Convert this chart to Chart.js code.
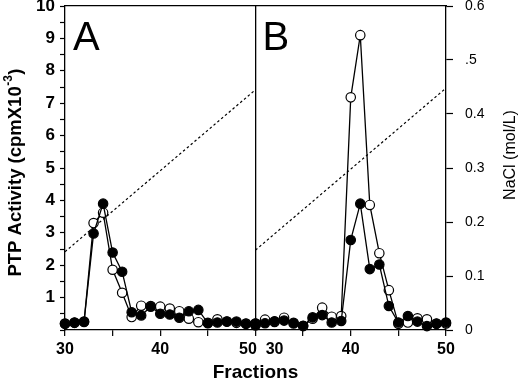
<!DOCTYPE html>
<html><head><meta charset="utf-8">
<script src="https://cdn.jsdelivr.net/npm/chart.js@4/dist/chart.umd.min.js"></script>
<style>html,body{margin:0;padding:0;background:#fff;}canvas{display:block;}</style>
</head><body>
<canvas id="c" width="520" height="388"></canvas>
<script>
// ---- data ----
const fractions = [30,31,32,33,34,35,36,37,38,39,40,41,42,43,44,45,46,47,48,49,50];
const panelAFilled = [0.19,0.23,0.26,2.98,3.90,2.39,1.80,0.55,0.45,0.72,0.50,0.48,0.38,0.58,0.62,0.21,0.23,0.26,0.26,0.19,0.15];
const panelAOpen   = [0.20,0.22,0.25,3.30,3.62,1.86,1.15,0.40,0.75,0.74,0.72,0.66,0.58,0.35,0.24,0.22,0.33,0.26,0.22,0.20,0.15];
const panelBFilled = [0.20,0.21,0.27,0.29,0.22,0.13,0.39,0.46,0.23,0.28,2.78,3.90,1.88,2.02,0.74,0.23,0.43,0.26,0.12,0.19,0.23];
const panelBOpen   = [0.20,0.32,0.25,0.38,0.20,0.12,0.35,0.69,0.41,0.43,7.18,9.10,3.86,2.37,1.23,0.19,0.23,0.36,0.33,0.20,0.20];
const gradientFractions = [30, 50];
const gradientA = [0.145, 0.445];
const gradientB = [0.148, 0.448];
const panelLabels = ['A', 'B'];
const bottomTickLabels = ['30', '40', '50'];
const bottomTickFractions = [30, 40, 50];
const minorTickFractions = [35, 45];
const leftTickValues = [1,2,3,4,5,6,7,8,9,10];
const leftTickLabels = ['1','2','3','4','5','6','7','8','9','10'];
const rightTickValues = [0, 0.1, 0.2, 0.3, 0.4, 0.5, 0.6];
const rightTickLabels = ['0', '0.1', '0.2', '0.3', '0.4', '.5', '0.6'];
const yTitleMain = 'PTP Activity (cpmX10';
const yTitleSup = '-3';
const yTitleEnd = ')';
const y2Title = 'NaCl (mol/L)';
const xTitle = 'Fractions';

// panel B is drawn on the same x scale, shifted right by one panel width
const SHIFT = 20;
const A_END_LABEL_NUDGE = -0.8;   // "50" of panel A sits slightly left of its tick
const B_START_LABEL_NUDGE = 2.0;  // "30" of panel B sits right of its tick
const FONT = '"Liberation Sans", Arial, Helvetica, sans-serif';

const toPts = (xs, ys, shift) => xs.map((x, i) => ({x: x + shift, y: ys[i]}));

// x ticks: real tick marks + label-only positions
const markVals = [];
[0, SHIFT].forEach(s => {
  bottomTickFractions.forEach(f => markVals.push(f + s));
  minorTickFractions.forEach(f => markVals.push(f + s));
});
const labelOnly = new Map();
const aEndPos = bottomTickFractions[2] + A_END_LABEL_NUDGE;
const bStartPos = bottomTickFractions[0] + SHIFT + B_START_LABEL_NUDGE;
labelOnly.set(aEndPos, bottomTickLabels[2]);
labelOnly.set(bStartPos, bottomTickLabels[0]);
const xTickMap = new Map();
xTickMap.set(bottomTickFractions[0], bottomTickLabels[0]);
xTickMap.set(bottomTickFractions[1], bottomTickLabels[1]);
xTickMap.set(bottomTickFractions[1] + SHIFT, bottomTickLabels[1]);
xTickMap.set(bottomTickFractions[2] + SHIFT, bottomTickLabels[2]);
labelOnly.forEach((t, v) => xTickMap.set(v, t));
const uniqX = [...new Set([...markVals, ...labelOnly.keys()])].sort((a, b) => a - b);
const dividerVal = bottomTickFractions[2];

const leftMap = new Map(leftTickValues.map((v, i) => [v, leftTickLabels[i]]));
const rightMap = new Map(rightTickValues.map((v, i) => [Math.round(v * 10), rightTickLabels[i]]));

Chart.defaults.color = '#000';
Chart.defaults.font.family = FONT;

const common = {showLine: true, borderColor: '#000', borderWidth: 1.3, tension: 0, clip: false,
  pointRadius: 4.7, pointHoverRadius: 4.7, pointBorderColor: '#000', pointBorderWidth: 1.2};

const annot = {
  id: 'annot',
  afterDraw(chart) {
    const {ctx, chartArea: ca, scales} = chart;
    ctx.save();
    ctx.fillStyle = '#000';
    ctx.textBaseline = 'alphabetic';
    ctx.textAlign = 'left';
    ctx.font = '40px ' + FONT;
    ctx.fillText(panelLabels[0], ca.left + 8, ca.top + 44);
    ctx.fillText(panelLabels[1], scales.x.getPixelForValue(dividerVal) + 7, ca.top + 44);

    // left y title with superscript
    ctx.save();
    ctx.translate(16, (ca.top + ca.bottom) / 2 + 5);
    ctx.rotate(-Math.PI / 2);
    ctx.textBaseline = 'middle';
    const fMain = 'bold 18.5px ' + FONT, fSup = 'bold 12px ' + FONT;
    ctx.font = fMain; const w1 = ctx.measureText(yTitleMain).width; const w3 = ctx.measureText(yTitleEnd).width;
    ctx.font = fSup; const w2 = ctx.measureText(yTitleSup).width;
    let x0 = -(w1 + w2 + w3) / 2;
    ctx.font = fMain; ctx.fillText(yTitleMain, x0, 0);
    ctx.font = fSup; ctx.fillText(yTitleSup, x0 + w1 + 0.5, -7.5);
    ctx.font = fMain; ctx.fillText(yTitleEnd, x0 + w1 + w2 + 1, 0);
    ctx.restore();

    // right y title (reads bottom-to-top)
    ctx.save();
    ctx.translate(scales.y2.right - 9, (ca.top + ca.bottom) / 2 - 13);
    ctx.rotate(-Math.PI / 2);
    ctx.textBaseline = 'middle';
    ctx.textAlign = 'center';
    ctx.font = '16px ' + FONT;
    ctx.fillText(y2Title, 0, 0);
    ctx.restore();
    ctx.restore();
  }
};

new Chart(document.getElementById('c'), {
  type: 'scatter',
  data: {
    datasets: [
      {...common, data: toPts(fractions, panelAFilled, 0), pointBackgroundColor: '#000', yAxisID: 'y'},
      {...common, data: toPts(fractions, panelAOpen, 0), pointBackgroundColor: '#fff', yAxisID: 'y'},
      {...common, data: toPts(fractions, panelBFilled, SHIFT), pointBackgroundColor: '#000', yAxisID: 'y'},
      {...common, data: toPts(fractions, panelBOpen, SHIFT), pointBackgroundColor: '#fff', yAxisID: 'y'},
      {showLine: true, data: toPts(gradientFractions, gradientA, 0), yAxisID: 'y2', borderColor: '#000',
        borderWidth: 1.2, borderDash: [2.5, 2.5], pointRadius: 0, pointHoverRadius: 0, tension: 0},
      {showLine: true, data: toPts(gradientFractions, gradientB, SHIFT), yAxisID: 'y2', borderColor: '#000',
        borderWidth: 1.2, borderDash: [2.5, 2.5], pointRadius: 0, pointHoverRadius: 0, tension: 0}
    ]
  },
  options: {
    responsive: false, animation: false,
    layout: {padding: 0},
    plugins: {legend: {display: false}, tooltip: {enabled: false}},
    scales: {
      x: {
        type: 'linear', position: 'bottom', min: 30, max: 30 + 2 * SHIFT,
        afterBuildTicks: s => { s.ticks = uniqX.map(v => ({value: v})); },
        afterFit: s => { s.height = 58; s.paddingLeft = 0; s.paddingRight = 0; },
        ticks: {autoSkip: false, maxRotation: 0, padding: 4,
          font: {size: 16, weight: 'bold'},
          callback: v => xTickMap.has(v) ? xTickMap.get(v) : ''},
        grid: {drawOnChartArea: true, drawTicks: true, tickLength: 6,
          color: c => (c.tick && c.tick.value === dividerVal) ? '#000' : 'rgba(0,0,0,0)',
          lineWidth: 1.3,
          tickColor: c => (c.tick && labelOnly.has(c.tick.value)) ? 'rgba(0,0,0,0)' : '#000',
          tickWidth: 1.2},
        border: {display: true, color: '#000', width: 1.3},
        title: {display: true, text: xTitle, font: {size: 19, weight: 'bold'}, padding: {top: 0, bottom: 4}}
      },
      xTop: {
        type: 'linear', position: 'top', min: 30, max: 30 + 2 * SHIFT,
        afterFit: s => { s.height = 6; s.paddingLeft = 0; s.paddingRight = 0; },
        ticks: {display: false},
        grid: {drawOnChartArea: false, drawTicks: false},
        border: {display: true, color: '#000', width: 1.3}
      },
      y: {
        type: 'linear', position: 'left', min: 0, max: 10,
        afterBuildTicks: s => { const t = []; for (let i = 0; i <= 20; i++) t.push({value: i / 2}); s.ticks = t; },
        afterFit: s => { s.width = 65; s.paddingTop = 0; s.paddingBottom = 0; },
        ticks: {autoSkip: false, padding: 5, font: {size: 17, weight: 'bold'},
          callback: v => leftMap.has(v) ? leftMap.get(v) : ''},
        grid: {drawOnChartArea: false, tickLength: 5, tickColor: '#000', tickWidth: 1.2},
        border: {display: true, color: '#000', width: 1.3}
      },
      y2: {
        type: 'linear', position: 'right', min: 0, max: 0.6,
        afterBuildTicks: s => { s.ticks = rightTickValues.map(v => ({value: v})); },
        afterFit: s => { s.width = 74; s.paddingTop = 0; s.paddingBottom = 0; },
        ticks: {autoSkip: false, padding: 12, font: {size: 14},
          callback: v => rightMap.get(Math.round(v * 10)) || ''},
        grid: {drawOnChartArea: false, tickLength: 7, tickColor: '#000', tickWidth: 1.2},
        border: {display: true, color: '#000', width: 1.3}
      }
    }
  },
  plugins: [annot]
});
</script>
</body></html>
